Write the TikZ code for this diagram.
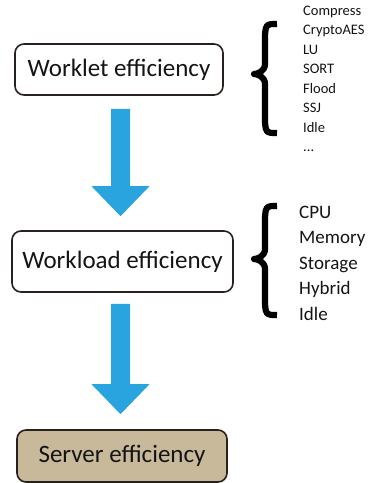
\documentclass[tikz,border=0pt]{standalone}
\usepackage{fontspec}
\setmainfont{Carlito}
\usetikzlibrary{calc}
\definecolor{arrowblue}{RGB}{41,164,222}
\definecolor{tanfill}{RGB}{201,185,155}
\definecolor{darkedge}{RGB}{40,32,28}
\definecolor{txt}{RGB}{20,20,20}
\tikzset{
  effbox/.style={draw=darkedge, line width=1.6pt, rounded corners=9pt, inner sep=0pt,
    font=\fontsize{25}{30}\selectfont, text=txt},
  smallitem/.style={anchor=base west, inner sep=0pt, font=\fontsize{14.5}{17}\selectfont, text=txt},
  biglist/.style={anchor=base west, inner sep=0pt, font=\fontsize{19}{22}\selectfont, text=txt},
  bigbrace/.style={draw=black, line width=6.2pt, line join=round},
  flowarrow/.style={fill=arrowblue}
}
\newcommand{\fatarrow}[2]{%
  \fill[flowarrow] ($(#1)+(-9.5,0)$) -- ($(#1)+(9.5,0)$) -- ($(#2)+(9.5,-30)$) -- ($(#2)+(29,-30)$)
    -- (#2) -- ($(#2)+(-29,-30)$) -- ($(#2)+(-9.5,-30)$) -- cycle;}
% #1 top end, #2 tip, #3 bottom end
\newcommand{\curlybrace}[3]{%
  \draw[bigbrace] (#1) .. controls ($(#1)+(-11,0)$) .. ($(#1)+(-12,11)$)
    -- ($(#1 |- #2)+(-12,-10)$) .. controls ($(#1 |- #2)+(-12,-3)$) and ($(#2)+(4,0)$) .. (#2)
    .. controls ($(#2)+(4,0)$) and ($(#1 |- #2)+(-12,3)$) .. ($(#1 |- #2)+(-12,10)$)
    -- ($(#3)+(-12,-11)$) .. controls ($(#3)+(-11,0)$) .. (#3);}
\begin{document}
\begin{tikzpicture}[x=1pt,y=-1pt]
\useasboundingbox (0,0) rectangle (373,483);
% boxes
\node[effbox, minimum width=208pt, minimum height=51pt] (w1) at (119,69.5) {Worklet efficiency};
\node[effbox, minimum width=221pt, minimum height=61pt] (w2) at (122.5,261.5) {Workload efficiency};
\node[effbox, fill=tanfill, minimum width=210pt, minimum height=52pt] (w3) at (122,456) {Server efficiency};
% arrows
\coordinate (a1s) at ($(w1.south)+(1.5,13)$);
\coordinate (a1e) at ($(a1s |- w2.north)+(0,-14)$);
\coordinate (a2s) at ($(w2.south)+(-2,11)$);
\coordinate (a2e) at ($(a2s |- w3.north)+(0,-15)$);
\fatarrow{a1s}{a1e}
\fatarrow{a2s}{a2e}
% list 1
\foreach \t [count=\i] in {Compress,CryptoAES,LU,SORT,Flood,SSJ,Idle}
  \node[smallitem] (s\i) at (303,{15+(\i-1)*19.5}) {\t};
\node[smallitem] (s8) at (303,151.5) {...};
% list 2
\foreach \t [count=\i] in {CPU,Memory,Storage,Hybrid,Idle}
  \node[biglist] (m\i) at (299,{218+(\i-1)*25.5}) {\t};
% braces
\coordinate (b1t) at (277,24);
\coordinate (b1m) at (254,74);
\coordinate (b1b) at (277,133);
\curlybrace{b1t}{b1m}{b1b}
\coordinate (b2t) at (277,206);
\coordinate (b2m) at (254,259);
\coordinate (b2b) at (277,315);
\curlybrace{b2t}{b2m}{b2b}
\end{tikzpicture}
\end{document}
